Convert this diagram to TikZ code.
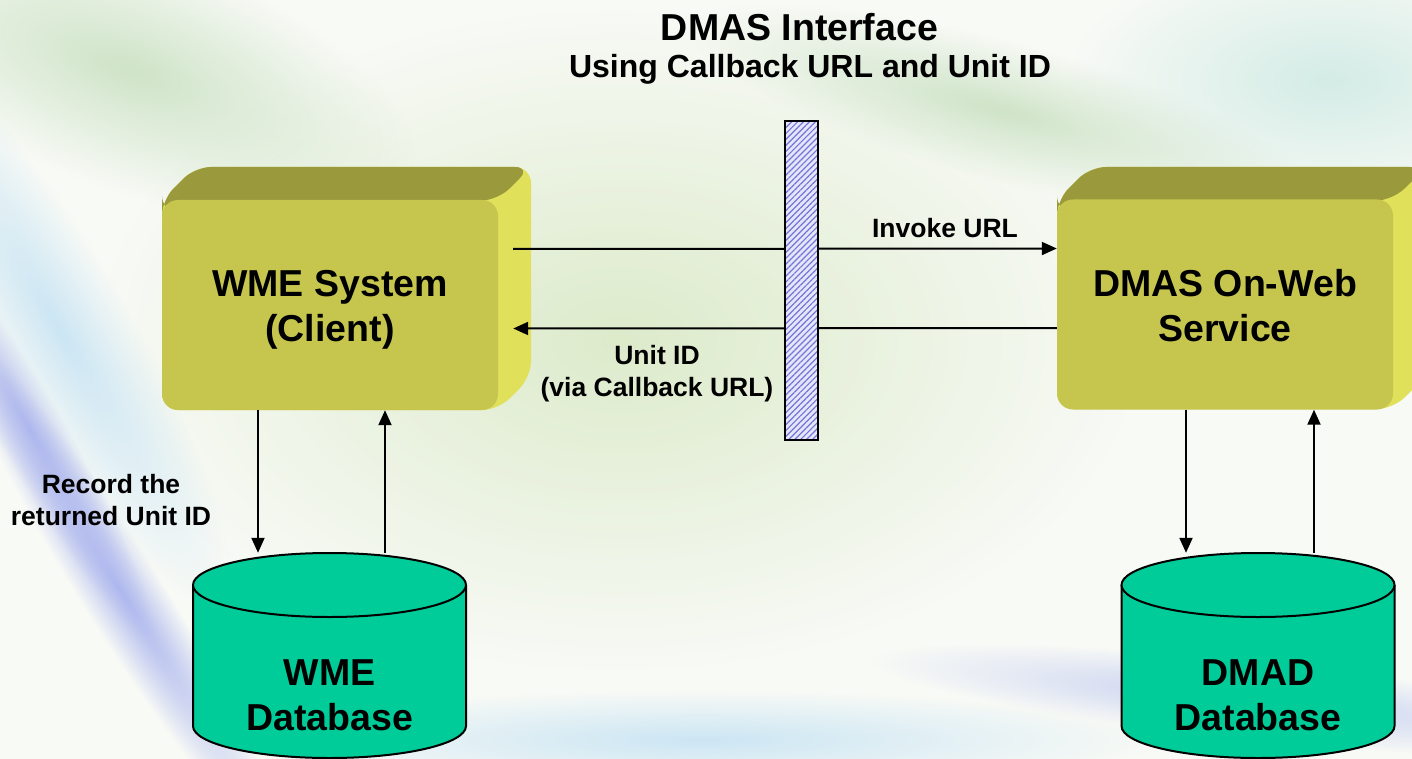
\documentclass[tikz,border=0pt]{standalone}
\usepackage{fontspec}
\setmainfont{Liberation Sans}
\usetikzlibrary{arrows.meta,patterns.meta,fadings}
\definecolor{bgc}{HTML}{F8FAF6}
\definecolor{frontc}{HTML}{C6C64E}
\definecolor{topc}{HTML}{9A9A3C}
\definecolor{sidec}{HTML}{E0E05A}
\definecolor{dbc}{HTML}{00CC99}
\definecolor{barfill}{HTML}{E6E6FA}
\definecolor{hatchc}{HTML}{7474D8}
\definecolor{blobg}{HTML}{CFE4C8}
\definecolor{blobb}{HTML}{CCE6F4}
\definecolor{blobl}{HTML}{AEB8EE}
\definecolor{blobh}{HTML}{DDEBCB}
\definecolor{blobt}{HTML}{D4ECE6}
\definecolor{blobp}{HTML}{C8D0F2}
\tikzfading[name=softblob, inner color=transparent!0, outer color=transparent!100]
\newcommand{\boxthreed}[4]{%
  \fill[sidec, rounded corners=16pt] (#1,#4) -- (#1,#2) -- (#1+33,#2-33) -- (#3+33,#2-33) -- (#3+33,#4-33) -- (#3,#4) -- cycle;
  \fill[topc, rounded corners=16pt] (#1,#2+12) -- (#1,#2) -- (#1+33,#2-33) -- (#3+33,#2-33) -- (#3,#2) -- cycle;}
\newcommand{\dbcyl}[3]{% cx, top center y, bottom center y
  \filldraw[fill=dbc, line width=2pt] (#1-136.5,#2) -- (#1-136.5,#3) arc[start angle=180, end angle=360, x radius=136.5pt, y radius=32pt] -- (#1+136.5,#2);
  \filldraw[fill=dbc, line width=2pt] (#1,#2) ellipse [x radius=136.5pt, y radius=32pt];}
% blob: color, cx, cy, rx, ry, angle
\newcommand{\hazeblob}[6]{%
  \begin{scope}[transform canvas={rotate around={#6:(#2,#3)}}]
  \fill[#1, path fading=softblob] (#2,#3) ellipse [x radius=#4pt, y radius=#5pt];
  \end{scope}}
\begin{document}
\begin{tikzpicture}[x=1pt,y=-1pt,
  bigtxt/.style={font=\fontsize{37.5}{45}\selectfont\bfseries, align=center},
  lbl/.style={font=\fontsize{26.5}{32}\selectfont\bfseries, align=center},
  frontface/.style={fill=frontc, rounded corners=16pt, minimum width=336pt, minimum height=210pt, inner sep=0pt},
  dbbody/.style={minimum width=273pt, minimum height=206pt, inner sep=0pt},
  arr/.style={line width=2pt, -{Triangle[length=15pt,width=13pt]}},
  barbox/.style={draw, line width=2pt, preaction={fill=barfill}, pattern={Lines[angle=45,distance=4.2pt,line width=1.2pt]}, pattern color=hatchc, minimum width=33pt, minimum height=319pt, inner sep=0pt}]
\useasboundingbox (0,0) rectangle (1412,759);
\begin{scope}
\clip (0,0) rectangle (1412,759);
\fill[bgc] (0,0) rectangle (1412,759);
% background haze
\hazeblob{blobh}{620}{340}{520}{330}{0}
\hazeblob{blobg}{130}{70}{300}{120}{-20}
\hazeblob{blobb}{60}{330}{320}{70}{-60}
\hazeblob{blobl}{30}{430}{240}{34}{-60}
\hazeblob{blobl}{120}{590}{300}{40}{-58}
\hazeblob{blobt}{1330}{80}{260}{130}{0}
\hazeblob{blobg}{1000}{110}{320}{70}{-15}
\hazeblob{blobp}{1250}{700}{380}{40}{-6}
\hazeblob{blobb}{700}{740}{460}{50}{0}

% boxes
\boxthreed{162}{200}{498}{410}
\node[frontface, label={[bigtxt, yshift=-5pt]center:WME System\\(Client)}] (wme) at (330,305) {};
\boxthreed{1057}{200}{1393}{409}
\node[frontface, label={[bigtxt, yshift=-1pt]center:DMAS On-Web\\Service}] (dmas) at (1225,304.5) {};

% databases
\dbcyl{329.5}{585}{726}
\node[dbbody] (wmedb) at (329.5,656) {};
\node[bigtxt] (wmedbt) at (329.5,695) {WME\\Database};
\dbcyl{1258}{585}{726}
\node[dbbody] (dmaddb) at (1258,656) {};
\node[bigtxt] (dmaddbt) at (1258,695) {DMAD\\Database};

% titles
\node[font=\fontsize{37.5}{40}\selectfont\bfseries] (title) at (799.5,27) {DMAS Interface};
\node[font=\fontsize{32}{36}\selectfont\bfseries] (subtitle) at (810,69) {Using Callback URL and Unit ID};

% horizontal connectors
\draw[arr] ([shift={(15pt,56pt)}]wme.east) -- ([yshift=56pt]dmas.west);
\draw[arr] ([yshift=-23.5pt]dmas.west) -- ([shift={(15pt,-23.5pt)}]wme.east);
\node[lbl] (invoke) at (945,228) {Invoke URL};
\node[lbl] (unitid) at (657,374) {Unit ID\\(via Callback URL)};

% interface bar
\node[barbox] (bar) at (801.5,280.5) {};

% vertical connectors
\coordinate (w1) at ([xshift=-71.5pt]wmedb.north);
\coordinate (w2) at ([xshift=55.5pt]wmedb.north);
\draw[arr] (w1 |- wme.south) -- (w1);
\draw[arr] (w2) -- (w2 |- wme.south);
\coordinate (d1) at ([xshift=-72pt]dmaddb.north);
\coordinate (d2) at ([xshift=56pt]dmaddb.north);
\draw[arr] (d1 |- dmas.south) -- (d1);
\draw[arr] (d2) -- (d2 |- dmas.south);
\node[lbl] (record) at (111,500) {Record the\\returned Unit ID};
\end{scope}
\end{tikzpicture}
\end{document}
